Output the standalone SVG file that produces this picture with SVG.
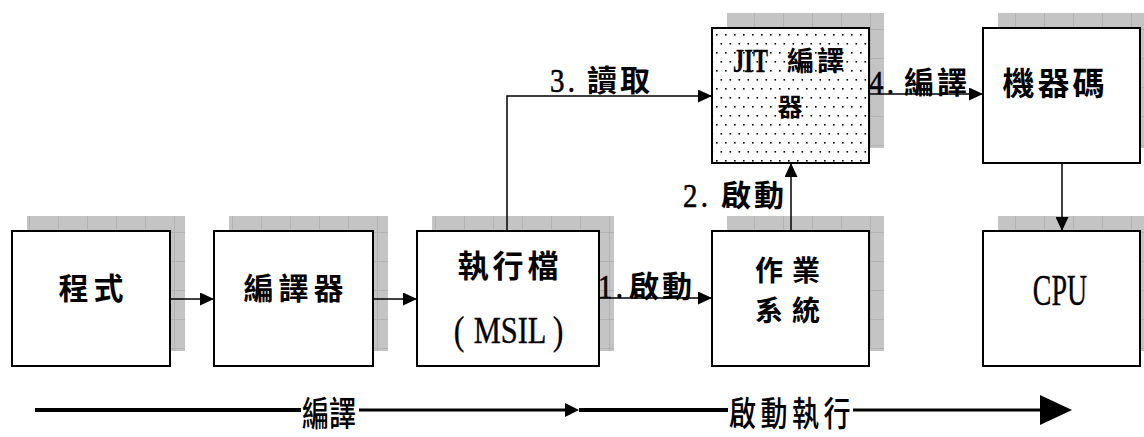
<svg xmlns="http://www.w3.org/2000/svg" width="1144" height="437" viewBox="0 0 1144 437">
<style>
.box{fill:#fff;stroke:#000;stroke-width:2}
.shadow{fill:url(#grid)}
.cjk{font-family:"Noto Sans CJK TC","Noto Sans CJK SC",sans-serif;font-weight:700;fill:#000}
.lat{font-family:"Liberation Serif","DejaVu Serif",serif;fill:#000;stroke:#000;stroke-width:0.6}
.con{fill:none;stroke:#000;stroke-width:1.5}
</style>
<defs>
<pattern id="grid" patternUnits="userSpaceOnUse" x="0" y="0" width="29" height="29">
<rect width="29" height="29" fill="#c4c4c4"/>
<path d="M0.5,0V29M0,0.5H29" stroke="#b2b2b2" stroke-width="1"/>
</pattern>
<pattern id="dots" patternUnits="userSpaceOnUse" x="716" y="34" width="9" height="18">
<rect width="9" height="18" fill="#fff"/>
<rect x="0" y="0" width="1.6" height="1.6" fill="#000"/>
<rect x="4.5" y="9" width="1.6" height="1.6" fill="#000"/>
</pattern>
<marker id="ah" markerUnits="userSpaceOnUse" markerWidth="14" markerHeight="13" refX="14" refY="6.5" orient="auto">
<path d="M0,0L14,6.5L0,13z" fill="#000"/>
</marker>
</defs>
<rect width="1144" height="437" fill="#fff"/>

<g id="n1">
<rect class="shadow" x="27" y="216" width="158" height="135"/>
<rect class="box" x="12" y="231" width="158" height="135"/>
<text class="cjk" x="93.5" y="298.5" font-size="30" letter-spacing="5" text-anchor="middle">程式</text>
</g>
<g id="n2">
<rect class="shadow" x="229" y="216" width="159" height="135"/>
<rect class="box" x="214" y="231" width="159" height="135"/>
<text class="cjk" x="296" y="298.5" font-size="30" letter-spacing="5" text-anchor="middle">編譯器</text>
</g>
<g id="n3">
<rect class="shadow" x="432" y="216" width="182" height="135"/>
<rect class="box" x="417" y="231" width="182" height="135"/>
<text class="cjk" x="510" y="276.5" font-size="31" letter-spacing="4" text-anchor="middle">執行檔</text>
<text class="lat" transform="translate(459,344) scale(0.8,1)" font-size="40" text-anchor="middle" style="stroke-width:0.3">(</text>
<text class="lat" transform="translate(510,343) scale(0.8,1)" font-size="38" text-anchor="middle" style="stroke-width:0.4">MSIL</text>
<text class="lat" transform="translate(558,344) scale(0.8,1)" font-size="40" text-anchor="middle" style="stroke-width:0.3">)</text>
</g>
<g id="n4">
<rect class="shadow" x="727" y="216" width="157" height="135"/>
<rect class="box" x="712" y="231" width="157" height="135"/>
<text class="cjk" x="792" y="281" font-size="28" letter-spacing="9" text-anchor="middle">作業</text>
<text class="cjk" x="792" y="321" font-size="28" letter-spacing="9" text-anchor="middle">系統</text>
</g>
<g id="n5">
<rect class="shadow" x="727" y="13" width="157" height="135"/>
<rect class="box" x="712" y="28" width="157" height="135" style="fill:url(#dots)"/>
<text class="lat" transform="translate(733,72) scale(0.68,1)" font-size="33" font-weight="700" style="stroke-width:0.3">JIT</text>
<text class="cjk" x="787" y="71" font-size="27" letter-spacing="3">編譯</text>
<text class="cjk" x="790" y="116" font-size="25" text-anchor="middle">器</text>
</g>
<g id="n6">
<rect class="shadow" x="998" y="13" width="157" height="135"/>
<rect class="box" x="983" y="28" width="157" height="135"/>
<text class="cjk" x="1055" y="95" font-size="32" letter-spacing="3" text-anchor="middle">機器碼</text>
</g>
<g id="n7">
<rect class="shadow" x="998" y="216" width="157" height="135"/>
<rect class="box" x="983" y="231" width="157" height="135"/>
<text class="lat" transform="translate(1060,305) scale(0.62,1)" font-size="45" text-anchor="middle" style="stroke-width:0.4">CPU</text>
</g>

<g id="connectors">
<line class="con" x1="170" y1="299" x2="214" y2="299" marker-end="url(#ah)"/>
<line class="con" x1="373" y1="299" x2="417" y2="299" marker-end="url(#ah)"/>
<line class="con" x1="599" y1="298" x2="712" y2="298" marker-end="url(#ah)"/>
<line class="con" x1="791" y1="231" x2="791" y2="163" marker-end="url(#ah)"/>
<polyline class="con" points="507,231 507,96 712,96" marker-end="url(#ah)"/>
<line class="con" x1="869" y1="94" x2="983" y2="94" marker-end="url(#ah)"/>
<line class="con" x1="1062" y1="163" x2="1062" y2="231" marker-end="url(#ah)"/>
</g>

<g id="labels">
<text class="lat" transform="translate(550,92) scale(0.85,1)" font-size="34" letter-spacing="4">3.</text>
<text class="cjk" x="587" y="91" font-size="30" letter-spacing="3">讀取</text>
<text class="lat" transform="translate(598,298) scale(0.85,1)" font-size="34" letter-spacing="4">1.</text>
<text class="cjk" x="629" y="297" font-size="30" letter-spacing="3">啟動</text>
<text class="lat" transform="translate(683,207) scale(0.85,1)" font-size="34" letter-spacing="4">2.</text>
<text class="cjk" x="721" y="206" font-size="30" letter-spacing="3">啟動</text>
<text class="lat" transform="translate(869,94) scale(0.85,1)" font-size="34" letter-spacing="4">4.</text>
<text class="cjk" x="904" y="93" font-size="30" letter-spacing="3">編譯</text>
</g>

<g id="timeline">
<line x1="35" y1="410" x2="301" y2="410" stroke="#000" stroke-width="4"/>
<line x1="359" y1="410" x2="566" y2="410" stroke="#000" stroke-width="3"/>
<path d="M565,403L579,410L565,417z" fill="#000"/>
<line x1="579" y1="410" x2="728" y2="410" stroke="#000" stroke-width="4"/>
<line x1="853" y1="410" x2="1042" y2="410" stroke="#000" stroke-width="3"/>
<path d="M1040,395L1072,410L1040,425z" fill="#000"/>
<text class="cjk" transform="translate(302,426) scale(0.9,1.15)" font-size="30" font-weight="500" style="font-weight:500">編譯</text>
<text class="cjk" transform="translate(729,426) scale(0.9,1.15)" font-size="30" letter-spacing="5" style="font-weight:500">啟動執行</text>
</g>
</svg>
